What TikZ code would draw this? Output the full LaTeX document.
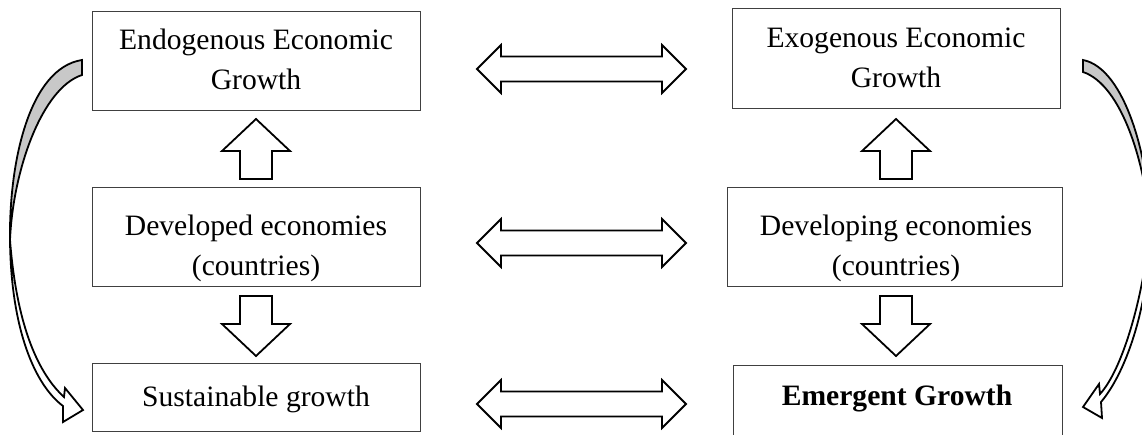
\documentclass[tikz,border=0pt]{standalone}
\usepackage{fontspec}
\setmainfont{Liberation Serif}
\definecolor{boxgray}{HTML}{404040}
\definecolor{curvgray}{HTML}{C8C8C8}
\begin{document}
\begin{tikzpicture}[x=1pt,y=-1pt,
  box/.style={draw=boxgray, line width=1.3pt, inner sep=0pt, anchor=north west},
  blk/.style={draw=black, line width=1.8pt, fill=white, line join=miter},
  lbl/.style={font=\fontsize{29.6}{40}\selectfont, align=center, inner sep=0pt},
  dblarrow/.pic={\draw[blk] (-104.5,0) -- (-80.5,-24) -- (-80.5,-12.5) -- (80.5,-12.5) -- (80.5,-24) -- (104.5,0) -- (80.5,24) -- (80.5,12.5) -- (-80.5,12.5) -- (-80.5,24) -- cycle;},
  uparrow/.pic={\draw[blk] (0,-30) -- (34,2) -- (16,2) -- (16,30) -- (-16,30) -- (-16,2) -- (-34,2) -- cycle;},
  downarrow/.pic={\draw[blk] (0,30) -- (34,-2) -- (16,-2) -- (16,-30) -- (-16,-30) -- (-16,-2) -- (-34,-2) -- cycle;}
]
\useasboundingbox (0,0) rectangle (1142,434);
\clip (0,0) rectangle (1142,434);
\fill[white] (0,0) rectangle (1142,434);

% boxes
\node[box, minimum width=328pt, minimum height=99pt] (tl) at (92,11) {};
\node[box, minimum width=328pt, minimum height=99pt] (ml) at (92,187) {};
\node[box, minimum width=328pt, minimum height=68pt] (bl) at (92,363) {};
\node[box, minimum width=328pt, minimum height=100pt] (tr) at (732,8) {};
\node[box, minimum width=335pt, minimum height=99pt] (mr) at (727,187) {};
\node[box, minimum width=329pt, minimum height=90pt] (br) at (733,365) {};

% labels
\node[lbl] (tlt) at (256,59) {Endogenous Economic\\Growth};
\node[lbl] (trt) at (896,58) {Exogenous Economic\\Growth};
\node[lbl] (mlt) at (256,248) {Developed economies\\(countries)};
\node[lbl] (mrt) at (896,248) {Developing economies\\(countries)};
\node[lbl] (blt) at (256,399) {Sustainable growth};
\node[lbl, font=\fontsize{29.6}{40}\selectfont\bfseries] (brt) at (897,398) {Emergent Growth};

% horizontal double arrows
\pic (h1) at (581.5,69) {dblarrow};
\pic (h2) at (581.5,243) {dblarrow};
\pic (h3) at (581.5,404) {dblarrow};

% vertical arrows
\pic (u1) at (256,149) {uparrow};
\pic (d1) at (256,326) {downarrow};
\pic (u2) at (896,149) {uparrow};
\pic (d2) at (896,326) {downarrow};

% left curved arrow
\draw[blk, fill=curvgray] (82,60) .. controls (30,68) and (9,160) .. (10,240)
   .. controls (13,170) and (42,88) .. (82,75) -- cycle;
\draw[blk] (10,240) .. controls (11,330) and (35,385) .. (63,406)
   -- (63,422) -- (83,410) -- (65,388) -- (64,397)
   .. controls (40,375) and (17,330) .. (10,240) -- cycle;

% right curved arrow
\draw[blk, fill=curvgray] (1083,60) .. controls (1125,68) and (1150,160) .. (1150,228)
   .. controls (1146,165) and (1122,85) .. (1083,72) -- cycle;
\draw[blk] (1150,228) .. controls (1150,300) and (1128,370) .. (1101,402)
   -- (1102,418) -- (1083,407) -- (1099,384) -- (1100,394)
   .. controls (1122,370) and (1143,300) .. (1150,228) -- cycle;
\end{tikzpicture}
\end{document}
